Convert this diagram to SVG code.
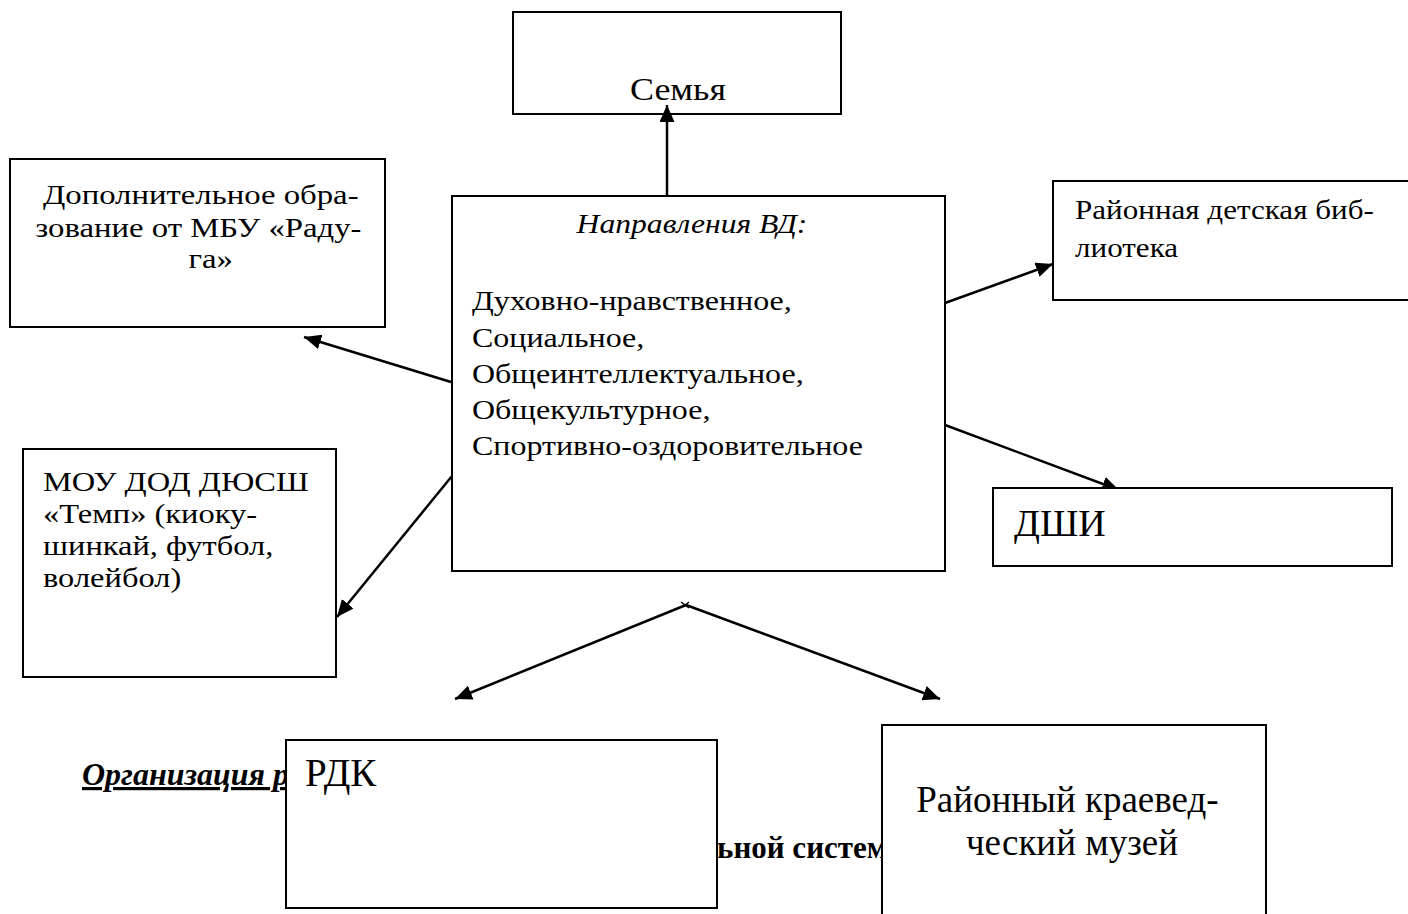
<svg xmlns="http://www.w3.org/2000/svg" width="1408" height="914" viewBox="0 0 1408 914">
<style>
.box{fill:#fff;stroke:#000;stroke-width:2}
.t{font-family:"Liberation Serif","Times New Roman",serif;fill:#000}
.c{stroke:#000;stroke-width:2.5;fill:none;marker-end:url(#ah)}
</style>
<defs>
<marker id="ah" markerUnits="userSpaceOnUse" markerWidth="18" markerHeight="16" refX="17" refY="7.5" orient="auto">
<path d="M0,0 L17,7.5 L0,15 z" fill="#000"/>
</marker>
</defs>
<rect width="1408" height="914" fill="#fff"/>
<g id="caption">
<text class="t" x="82" y="785" font-size="32" font-weight="bold" font-style="italic" text-decoration="underline">Организация р</text>
<text class="t" x="717" y="858" font-size="31" font-weight="bold">ьной систем</text>
</g>
<g id="connectors">
<line class="c" x1="667" y1="196" x2="667" y2="105"/>
<line class="c" x1="451" y1="382" x2="304" y2="337"/>
<line class="c" x1="452" y1="476" x2="337" y2="617"/>
<line class="c" x1="945" y1="303" x2="1053" y2="264"/>
<line class="c" x1="945" y1="425" x2="1119" y2="490"/>
<line class="c" x1="686" y1="605" x2="455" y2="699"/>
<line class="c" x1="686" y1="605" x2="940" y2="699"/>
<path d="M681,602 L689,608 M689,602 L683,607" stroke="#000" stroke-width="1.5"/>
</g>
<g id="semya">
<rect x="513" y="12" width="328" height="102" fill="none" stroke="#000" stroke-width="2"/>
<text class="t" transform="matrix(1.16 0 0 1 678 0)" x="0" y="100" font-size="31" text-anchor="middle">Семья</text>
</g>
<g id="napravleniya">
<rect class="box" x="452" y="196" width="493" height="375"/>
<text class="t" transform="matrix(1.13 0 0 1 692 0)" x="0" y="233" font-size="28" font-style="italic" text-anchor="middle">Направления ВД:</text>
<text class="t" transform="matrix(1.185 0 0 1 472 0)" font-size="27">
<tspan x="0" y="310">Духовно-нравственное,</tspan>
<tspan x="0" y="347">Социальное,</tspan>
<tspan x="0" y="383">Общеинтеллектуальное,</tspan>
<tspan x="0" y="419">Общекультурное,</tspan>
<tspan x="0" y="455">Спортивно-оздоровительное</tspan>
</text>
</g>
<g id="raduga">
<rect class="box" x="10" y="159" width="375" height="168"/>
<text class="t" transform="matrix(1.17 0 0 1 206 0)" font-size="28" text-anchor="middle">
<tspan x="-1" y="204">Дополнительное обра-</tspan>
<tspan x="-3" y="237">зование от МБУ «Раду-</tspan>
<tspan x="4" y="268">га»</tspan>
</text>
</g>
<g id="dyussh">
<rect class="box" x="23" y="449" width="313" height="228"/>
<text class="t" transform="matrix(1.16 0 0 1 43 0)" font-size="28">
<tspan x="0" y="491">МОУ ДОД ДЮСШ</tspan>
<tspan x="0" y="523">«Темп» (киоку-</tspan>
<tspan x="0" y="555">шинкай, футбол,</tspan>
<tspan x="0" y="587">волейбол)</tspan>
</text>
</g>
<g id="biblioteka">
<rect class="box" x="1053" y="181" width="370" height="119"/>
<text class="t" transform="matrix(1.11 0 0 1 1075 0)" font-size="28">
<tspan x="0" y="219">Районная детская биб-</tspan>
<tspan x="0" y="257">лиотека</tspan>
</text>
</g>
<g id="dshi">
<rect class="box" x="993" y="488" width="399" height="78"/>
<text class="t" x="1014" y="536" font-size="38">ДШИ</text>
</g>
<g id="rdk">
<rect class="box" x="286" y="740" width="431" height="168"/>
<text class="t" x="305" y="786" font-size="39">РДК</text>
</g>
<g id="muzey">
<rect class="box" x="882" y="725" width="384" height="200"/>
<text class="t" font-size="37" text-anchor="middle">
<tspan x="1072" y="812">Районный краевед-</tspan>
<tspan x="1072" y="855">ческий  музей</tspan>
</text>
</g>
</svg>
